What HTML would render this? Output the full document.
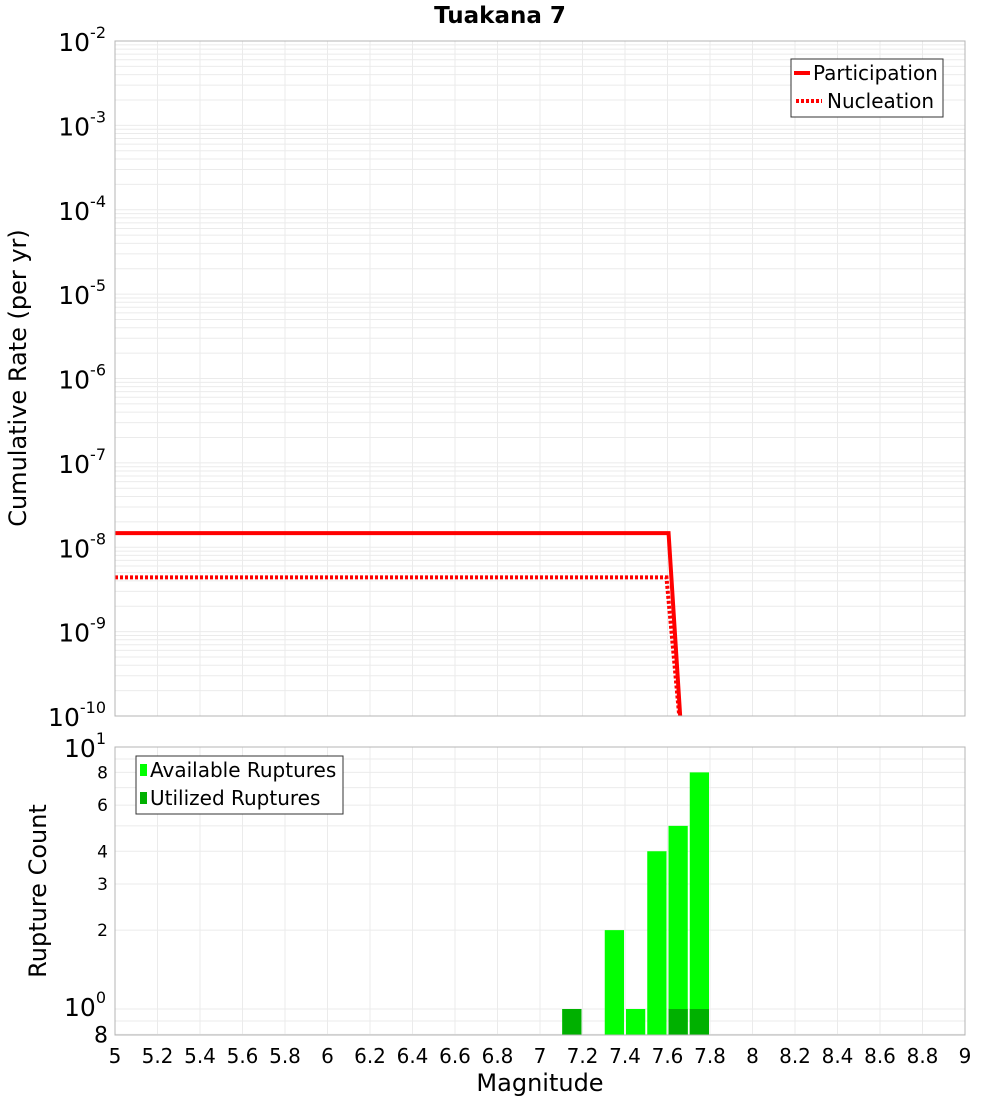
<!DOCTYPE html>
<html><head><meta charset="utf-8"><style>
body{margin:0;background:#fff;}
svg text{font-family:"DejaVu Sans","Liberation Sans",sans-serif;fill:#000;}
</style></head><body>
<svg id="chart" width="1000" height="1100" xmlns="http://www.w3.org/2000/svg">
<defs>
<clipPath id="clipTop"><rect x="115" y="41" width="850" height="675"/></clipPath>
<clipPath id="clipBot"><rect x="115" y="747" width="850" height="288"/></clipPath>
</defs>
<text x="500" y="23" text-anchor="middle" font-size="23" font-weight="bold">Tuakana 7</text>
<g id="topGrid"></g>
<g id="botGrid"></g>
<g id="topSeries" clip-path="url(#clipTop)"></g>
<g id="botSeries" clip-path="url(#clipBot)"></g>
<rect x="115" y="41" width="850" height="675" fill="none" stroke="#b4b4b4"/>
<rect x="115" y="747" width="850" height="288" fill="none" stroke="#b4b4b4"/>
<g id="axes"></g>
<text transform="translate(26,378) rotate(-90)" text-anchor="middle" font-size="24">Cumulative Rate (per yr)</text>
<text transform="translate(46,891) rotate(-90)" text-anchor="middle" font-size="24">Rupture Count</text>
<text x="540" y="1091" text-anchor="middle" font-size="24">Magnitude</text>
<g>
<rect x="791" y="59" width="152" height="58" fill="#fff" stroke="#333"/>
<line x1="794" y1="73" x2="810" y2="73" stroke="#f00" stroke-width="4"/>
<text x="813" y="80" font-size="20">Participation</text>
<line x1="796" y1="101" x2="822" y2="101" stroke="#f00" stroke-width="4" stroke-dasharray="3,2"/>
<text x="827" y="108" font-size="20">Nucleation</text>
</g>
<g>
<rect x="136" y="756" width="207" height="58" fill="#fff" stroke="#333"/>
<rect x="140" y="764" width="7" height="12" fill="#00ff00"/>
<text x="150" y="777" font-size="20">Available Ruptures</text>
<rect x="140" y="792" width="7" height="12" fill="#00b000"/>
<text x="150" y="805" font-size="20">Utilized Ruptures</text>
</g>
</svg>
<script>
const partMags = [5.0, 7.605, 7.7];
const partRates = [1.47e-8, 1.47e-8, 2.5e-12];
const nuclMags = [5.0, 7.595, 7.7];
const nuclRates = [4.4e-9, 4.4e-9, 6e-12];
const binStarts = [7.1, 7.3, 7.4, 7.5, 7.6, 7.7];
const availableCounts = [1, 2, 1, 4, 5, 8];
const utilizedCounts = [1, 0, 0, 0, 1, 1];
const xTicks = [5,5.2,5.4,5.6,5.8,6,6.2,6.4,6.6,6.8,7,7.2,7.4,7.6,7.8,8,8.2,8.4,8.6,8.8,9];
const topExps = [-2,-3,-4,-5,-6,-7,-8,-9,-10];
const botTicks = [8,6,4,3,2];

const NS = "http://www.w3.org/2000/svg";
const X = m => 115 + (m - 5) * 212.5;
const YT = v => 41 + (-2 - Math.log10(v)) * 84.375;
const YB = v => 1009 - Math.log10(v) * 262;
function mk(tag, attrs, parent){const e=document.createElementNS(NS,tag);for(const k in attrs)e.setAttribute(k,attrs[k]);parent.appendChild(e);return e;}
const tg=document.getElementById('topGrid'), bg=document.getElementById('botGrid'), ax=document.getElementById('axes');
xTicks.forEach(t=>{
  const l1=mk('line',{x1:X(t),x2:X(t),y1:41,y2:716,stroke:'#ebebeb'},tg);
  
  
  const l2=mk('line',{x1:X(t),x2:X(t),y1:747,y2:1035,stroke:'#ebebeb'},bg);
  
  
  const tx=mk('text',{x:X(t),y:1063,'font-size':20,'text-anchor':'middle'},ax);
  tx.textContent=String(t);
  
  
});
for(let e=-10;e<-2;e++){for(let k=1;k<10;k++){const v=k*Math.pow(10,e);
  const l=mk('line',{x1:115,x2:965,y1:YT(v),y2:YT(v),stroke:'#ebebeb'},tg);
  
  }}
[0.8,0.9,1,2,3,4,5,6,7,8,9,10].forEach(v=>{
  const l=mk('line',{x1:115,x2:965,y1:YB(v),y2:YB(v),stroke:'#ebebeb'},bg);
  
  });
topExps.forEach(e=>{
  const y=YT(Math.pow(10,e));
  const t=mk('text',{x:106,y:y+10,'font-size':25,'text-anchor':'end'},ax);
  t.innerHTML='10<tspan dy="-13" font-size="16">'+e+'</tspan>';
  
  
});
const b10=mk('text',{x:106,y:YB(10)+10,'font-size':25,'text-anchor':'end'},ax);
b10.innerHTML='10<tspan dy="-13" font-size="16">1</tspan>';


const b1=mk('text',{x:106,y:YB(1)+7,'font-size':25,'text-anchor':'end'},ax);
b1.innerHTML='10<tspan dy="-13" font-size="16">0</tspan>';


const b08=mk('text',{x:108,y:YB(0.8)+8,'font-size':22,'text-anchor':'end'},ax);
b08.textContent='8';


botTicks.forEach(v=>{
  const t=mk('text',{x:108,y:YB(v)+6,'font-size':17,'text-anchor':'end'},ax);
  t.textContent=String(v);
  
  
});
const ts=document.getElementById('topSeries');
const pp=mk('polyline',{points:partMags.map((m,i)=>X(m)+','+YT(partRates[i])).join(' '),fill:'none',stroke:'#f00','stroke-width':4},ts);


const np=mk('polyline',{points:nuclMags.map((m,i)=>X(m)+','+YT(nuclRates[i])).join(' '),fill:'none',stroke:'#f00','stroke-width':4,'stroke-dasharray':'3,2'},ts);


const bs=document.getElementById('botSeries');
binStarts.forEach((m,i)=>{
  const x0=X(m)+1, w=X(m+0.1)-X(m)-2;
  if(availableCounts[i]>0){
    const r=mk('rect',{x:x0,y:YB(availableCounts[i]),width:w,height:1040-YB(availableCounts[i]),fill:'#00ff00'},bs);
    
    
  }
  if(utilizedCounts[i]>0){
    const r=mk('rect',{x:x0,y:YB(utilizedCounts[i]),width:w,height:1040-YB(utilizedCounts[i]),fill:'#00b000'},bs);
    
    
  }
});
</script>
</body></html>
